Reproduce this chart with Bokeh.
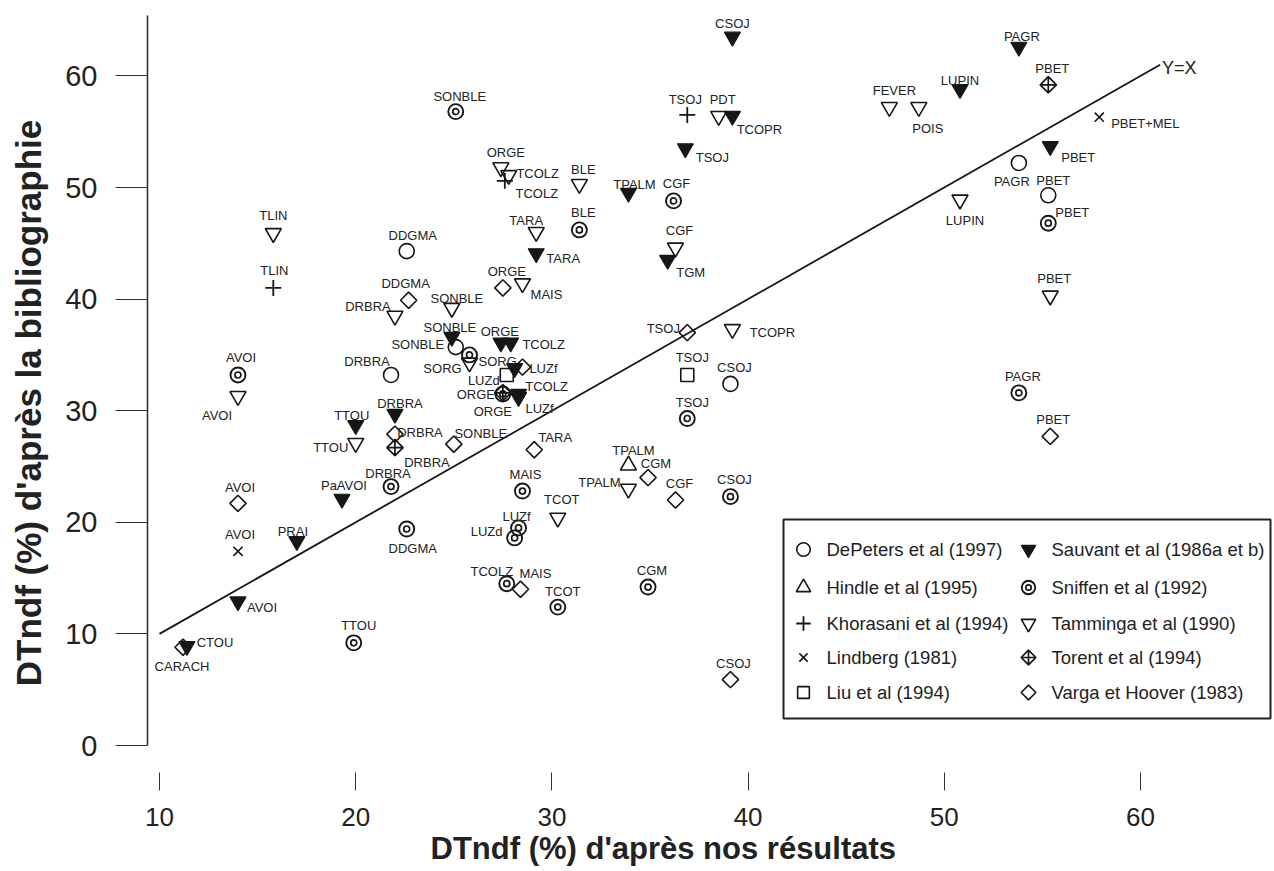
import numpy as np
from bokeh.plotting import figure
from bokeh.models import Range1d, FixedTicker, ColumnDataSource, Title
from bokeh.embed import file_html
from bokeh.resources import INLINE
from bokeh.core.properties import value

# ---------------- data ----------------
x_ticks = [10, 20, 30, 40, 50, 60]
y_ticks = [0, 10, 20, 30, 40, 50, 60]
yx_line = [10, 61]

depeters_lbl = ["DDGMA", "SONBLE", "DRBRA", "CSOJ", "PAGR", "PBET"]
depeters_x = [22.6, 25.1, 21.8, 39.1, 53.8, 55.3]
depeters_y = [44.3, 35.7, 33.2, 32.4, 52.2, 49.3]

hindle_lbl = ["TPALM"]
hindle_x = [33.9]
hindle_y = [25.1]

khorasani_lbl = ["TLIN", "TCOLZ", "TSOJ"]
khorasani_x = [15.8, 27.6, 36.9]
khorasani_y = [41.0, 50.6, 56.5]

lindberg_lbl = ["AVOI", "PBET+MEL"]
lindberg_x = [14.0, 57.9]
lindberg_y = [17.4, 56.3]

liu_lbl = ["LUZd", "TSOJ"]
liu_x = [27.7, 36.9]
liu_y = [33.2, 33.2]

sauvant_lbl = ["CSOJ", "PAGR", "LUPIN", "TCOPR", "TSOJ", "PBET", "TPALM", "TARA", "TGM",
               "SONBLE", "ORGE", "TCOLZ", "SORG", "TCOLZ", "LUZf", "DRBRA", "TTOU",
               "PaAVOI", "PRAI", "AVOI", "CTOU"]
sauvant_x = [39.2, 53.8, 50.8, 39.2, 36.8, 55.4, 33.9, 29.2, 35.9,
             24.9, 27.4, 27.9, 28.1, 28.3, 28.3, 22.0, 20.0,
             19.3, 17.0, 14.0, 11.4]
sauvant_y = [63.5, 62.6, 58.8, 56.4, 53.5, 53.7, 49.5, 44.1, 43.5,
             36.6, 36.1, 36.1, 33.8, 31.5, 31.2, 29.7, 28.7,
             22.1, 18.3, 12.9, 8.9]

sniffen_lbl = ["SONBLE", "BLE", "CGF", "PBET", "AVOI", "", "ORGE", "TSOJ", "PAGR", "CSOJ",
               "DRBRA", "MAIS", "DDGMA", "LUZf", "LUZd", "TCOLZ", "TCOT", "CGM", "TTOU"]
sniffen_x = [25.1, 31.4, 36.2, 55.3, 14.0, 25.8, 27.5, 36.9, 53.8, 39.1,
             21.8, 28.5, 22.6, 28.3, 28.1, 27.7, 30.3, 34.9, 19.9]
sniffen_y = [56.8, 46.2, 48.8, 46.8, 33.2, 35.0, 31.5, 29.3, 31.6, 22.3,
             23.2, 22.8, 19.4, 19.5, 18.6, 14.5, 12.4, 14.2, 9.2]

tamminga_lbl = ["FEVER", "POIS", "PDT", "LUPIN", "ORGE", "TCOLZ", "BLE", "TLIN", "TARA",
                "CGF", "PBET", "MAIS", "SONBLE", "DRBRA", "TCOPR", "AVOI", "SORG", "TTOU",
                "TPALM", "TCOT"]
tamminga_x = [47.2, 48.7, 38.5, 50.8, 27.4, 27.8, 31.4, 15.8, 29.2,
              36.3, 55.4, 28.5, 24.9, 22.0, 39.2, 14.0, 25.8, 20.0,
              33.9, 30.3]
tamminga_y = [57.2, 57.2, 56.4, 48.9, 51.8, 51.1, 50.3, 45.9, 46.0,
              44.6, 40.3, 41.4, 39.2, 38.5, 37.3, 31.3, 34.3, 27.1,
              23.0, 20.4]

torent_lbl = ["PBET", "DRBRA", "ORGE"]
torent_x = [55.3, 22.0, 27.5]
torent_y = [59.2, 26.7, 31.6]

varga_lbl = ["DDGMA", "ORGE", "TSOJ", "LUZf", "DRBRA", "SONBLE", "TARA", "CGM", "CGF",
             "AVOI", "MAIS", "CSOJ", "PBET", "CARACH"]
varga_x = [22.7, 27.5, 36.9, 28.5, 22.0, 25.0, 29.1, 34.9, 36.3,
           14.0, 28.4, 39.1, 55.4, 11.2]
varga_y = [39.9, 41.0, 37.0, 33.9, 27.9, 27.0, 26.5, 24.0, 22.0,
           21.7, 14.0, 5.9, 27.7, 8.8]

legend_left = [("circle", "DePeters et al (1997)"), ("triangle", "Hindle et al (1995)"),
               ("cross", "Khorasani et al (1994)"), ("x", "Lindberg (1981)"),
               ("square", "Liu et al (1994)")]
legend_right = [("tri_fill", "Sauvant et al (1986a et b)"), ("double", "Sniffen et al (1992)"),
                ("tri_open", "Tamminga et al (1990)"), ("torent", "Torent et al (1994)"),
                ("diamond", "Varga et Hoover (1983)")]

# ---------------- label offsets (screen px, layout only) ----------------
depeters_off = [(6, -16), (-38, -3), (-24, -13), (4, -16), (-7, 19), (5, -15)]
hindle_off = [(5, -15)]
khorasani_off = [(1, -17), (32, 13), (-2, -15)]
lindberg_off = [(2, -17), (46, 6)]
liu_off = [(-23, 6), (5, -17)]
sauvant_off = [(0, -13), (3, -10), (0, -9), (27, 13), (27, 9), (28, 11), (6, -9), (27, 5),
               (23, 12), (-2, -10), (-1, -11), (33, 2), (-17, -7), (28, -7), (21, 11),
               (5, -11), (-4, -10), (2, -13), (-4, -10), (24, 6), (28, -4)]
sniffen_off = [(4, -15), (4, -17), (3, -17), (24, -11), (3, -17), (0, 0), (-27, 1), (5, -16),
               (4, -16), (4, -17), (-3, -13), (3, -17), (6, 20), (-2, -11), (-28, -6),
               (-15, -12), (5, -16), (4, -17), (5, -17)]
tamminga_off = [(5, -17), (9, 21), (4, -17), (5, 21), (5, -15), (29, -2), (4, -15), (0, -18),
                (-10, -12), (4, -17), (4, -17), (24, 11), (5, -10), (-27, -9), (40, 3),
                (-21, 19), (-27, 6), (-25, 4), (-29, -6), (4, -18)]
torent_off = [(4, -16), (32, 15), (-10, 19)]
varga_off = [(-3, -17), (4, -16), (-24, -4), (21, 1), (25, -2), (27, -11), (21, -12), (8, -14),
             (4, -16), (2, -16), (15, -16), (3, -16), (3, -17), (-1, 19)]

# ---------------- layout (canvas px) ----------------
W, H = 1272, 871
FL, FT = 147, 15
FR, FB = 1272, 790
FW, FH = FR - FL, FB - FT
X0 = 10 - (159 - FL) / 19.62
X1 = X0 + FW / 19.62
Y1 = (745 - FT) / 11.16
Y0 = Y1 - FH / 11.16
INK = "#161616"
FONT = "Liberation Sans"


def px2x(px):
    return X0 + (px - FL) * (X1 - X0) / FW


def px2y(py):
    return Y1 - (py - FT) * (Y1 - Y0) / FH


p = figure(width=W, height=H, x_range=Range1d(X0, X1), y_range=Range1d(Y0, Y1),
           output_backend="svg", toolbar_location=None,
           min_border_left=FL, min_border_top=FT, min_border_right=W - FR,
           min_border_bottom=H - FB)
p.outline_line_color = None
p.grid.grid_line_color = None
p.background_fill_color = "white"
p.border_fill_color = "white"

# y axis
p.yaxis.ticker = FixedTicker(ticks=y_ticks)
p.yaxis.bounds = (0, Y1)
p.yaxis.axis_line_width = 1.6
p.yaxis.axis_line_color = "#333"
p.yaxis.major_tick_out = 32
p.yaxis.major_tick_in = 0
p.yaxis.major_tick_line_color = "#333"
p.yaxis.minor_tick_out = 0
p.yaxis.minor_tick_in = 0
p.yaxis.major_label_standoff = 18
p.yaxis.major_label_text_font = FONT
p.yaxis.major_label_text_font_size = "29px"
p.yaxis.major_label_text_color = "#222"
p.yaxis.axis_label = "DTndf (%) d'après la bibliographie"
p.yaxis.axis_label_text_font = FONT
p.yaxis.axis_label_text_font_size = "35px"
p.yaxis.axis_label_text_font_style = "bold"
p.yaxis.axis_label_text_color = "#222"
p.yaxis.axis_label_standoff = 14

# x axis (ticks drawn upward from the frame bottom, no axis line)
p.xaxis.ticker = FixedTicker(ticks=x_ticks)
p.xaxis.axis_line_color = None
p.xaxis.major_tick_out = 0
p.xaxis.major_tick_in = 18
p.xaxis.major_tick_line_color = "#333"
p.xaxis.minor_tick_out = 0
p.xaxis.minor_tick_in = 0
p.xaxis.major_label_standoff = 17
p.xaxis.major_label_text_font = "'Liberation Sans Narrow', 'Liberation Sans'"
p.xaxis.major_label_text_font_size = "26px"
p.xaxis.major_label_text_color = "#222"

p.add_layout(Title(text="DTndf (%) d'après nos résultats", align="left", offset=283,
                   standoff=0, text_font=FONT, text_font_size="31px",
                   text_font_style="bold", text_color="#222"), "below")

# Y = X line
p.line(yx_line, yx_line, line_width=1.8, line_color=INK)
p.text(x=[yx_line[1] + 0.1], y=[yx_line[1] - 0.3], text=["Y=X"], text_align="left",
       text_baseline="middle", text_font=value(FONT), text_font_size="18px", text_color="#222")


def draw(kind, xs, ys, s=1.0):
    if kind == "circle":
        p.scatter(xs, ys, marker="circle", size=15 * s, fill_color=None, line_color=INK, line_width=1.6)
    elif kind == "triangle":
        p.scatter(xs, ys, marker="triangle", size=16 * s, fill_color=None, line_color=INK, line_width=1.6)
    elif kind == "cross":
        p.scatter(xs, ys, marker="cross", size=16 * s, line_color=INK, line_width=1.8)
    elif kind == "x":
        p.scatter(xs, ys, marker="x", size=13 * s, line_color=INK, line_width=1.6)
    elif kind == "square":
        p.scatter(xs, ys, marker="square", size=13 * s, fill_color=None, line_color=INK, line_width=1.6)
    elif kind == "tri_fill":
        p.scatter(xs, ys, marker="inverted_triangle", size=16 * s, fill_color=INK, line_color=INK, line_width=1.2)
    elif kind == "tri_open":
        p.scatter(xs, ys, marker="inverted_triangle", size=16 * s, fill_color=None, line_color=INK, line_width=1.6)
    elif kind == "double":
        p.scatter(xs, ys, marker="circle", size=15 * s, fill_color=None, line_color=INK, line_width=1.9)
        p.scatter(xs, ys, marker="circle", size=6 * s, fill_color=None, line_color=INK, line_width=1.7)
    elif kind == "torent":
        p.scatter(xs, ys, marker="square_x", angle=np.pi / 4, size=11.5 * s, fill_color=None,
                  line_color=INK, line_width=1.7)
    elif kind == "diamond":
        p.scatter(xs, ys, marker="square", angle=np.pi / 4, size=11.5 * s, fill_color=None,
                  line_color=INK, line_width=1.6)


series = [
    ("varga", "diamond", varga_x, varga_y, varga_lbl, varga_off),
    ("torent", "torent", torent_x, torent_y, torent_lbl, torent_off),
    ("tamminga", "tri_open", tamminga_x, tamminga_y, tamminga_lbl, tamminga_off),
    ("sniffen", "double", sniffen_x, sniffen_y, sniffen_lbl, sniffen_off),
    ("depeters", "circle", depeters_x, depeters_y, depeters_lbl, depeters_off),
    ("hindle", "triangle", hindle_x, hindle_y, hindle_lbl, hindle_off),
    ("khorasani", "cross", khorasani_x, khorasani_y, khorasani_lbl, khorasani_off),
    ("lindberg", "x", lindberg_x, lindberg_y, lindberg_lbl, lindberg_off),
    ("liu", "square", liu_x, liu_y, liu_lbl, liu_off),
    ("sauvant", "tri_fill", sauvant_x, sauvant_y, sauvant_lbl, sauvant_off),
]

lab = dict(x=[], y=[], text=[], dx=[], dy=[])
for name, kind, xs, ys, lbls, offs in series:
    draw(kind, xs, ys)
    for xv, yv, t, (dx, dy) in zip(xs, ys, lbls, offs):
        if t:
            lab["x"].append(xv)
            lab["y"].append(yv)
            lab["text"].append(t)
            lab["dx"].append(dx)
            lab["dy"].append(dy)

p.text(x="x", y="y", text="text", x_offset="dx", y_offset="dy", source=ColumnDataSource(lab),
       text_align="center", text_baseline="middle", text_font=value(FONT),
       text_font_size="13px", text_color="#222")

# ---------------- legend box ----------------
p.quad(left=[px2x(783)], right=[px2x(1270)], top=[px2y(519)], bottom=[px2y(718)],
       fill_color="white", line_color="#222", line_width=2)
rows_px = [549, 587, 623, 657, 692]
for col, mx, tx in ((legend_left, 803, 826), (legend_right, 1028, 1051)):
    for (kind, txt), ry in zip(col, rows_px):
        draw(kind, [px2x(mx)], [px2y(ry)], s=0.9)
        p.text(x=[px2x(tx)], y=[px2y(ry)], text=[txt], text_align="left", text_baseline="middle",
               text_font=value(FONT), text_font_size="18.5px", text_color="#222")

open("out.html", "w").write(file_html(p, INLINE))
